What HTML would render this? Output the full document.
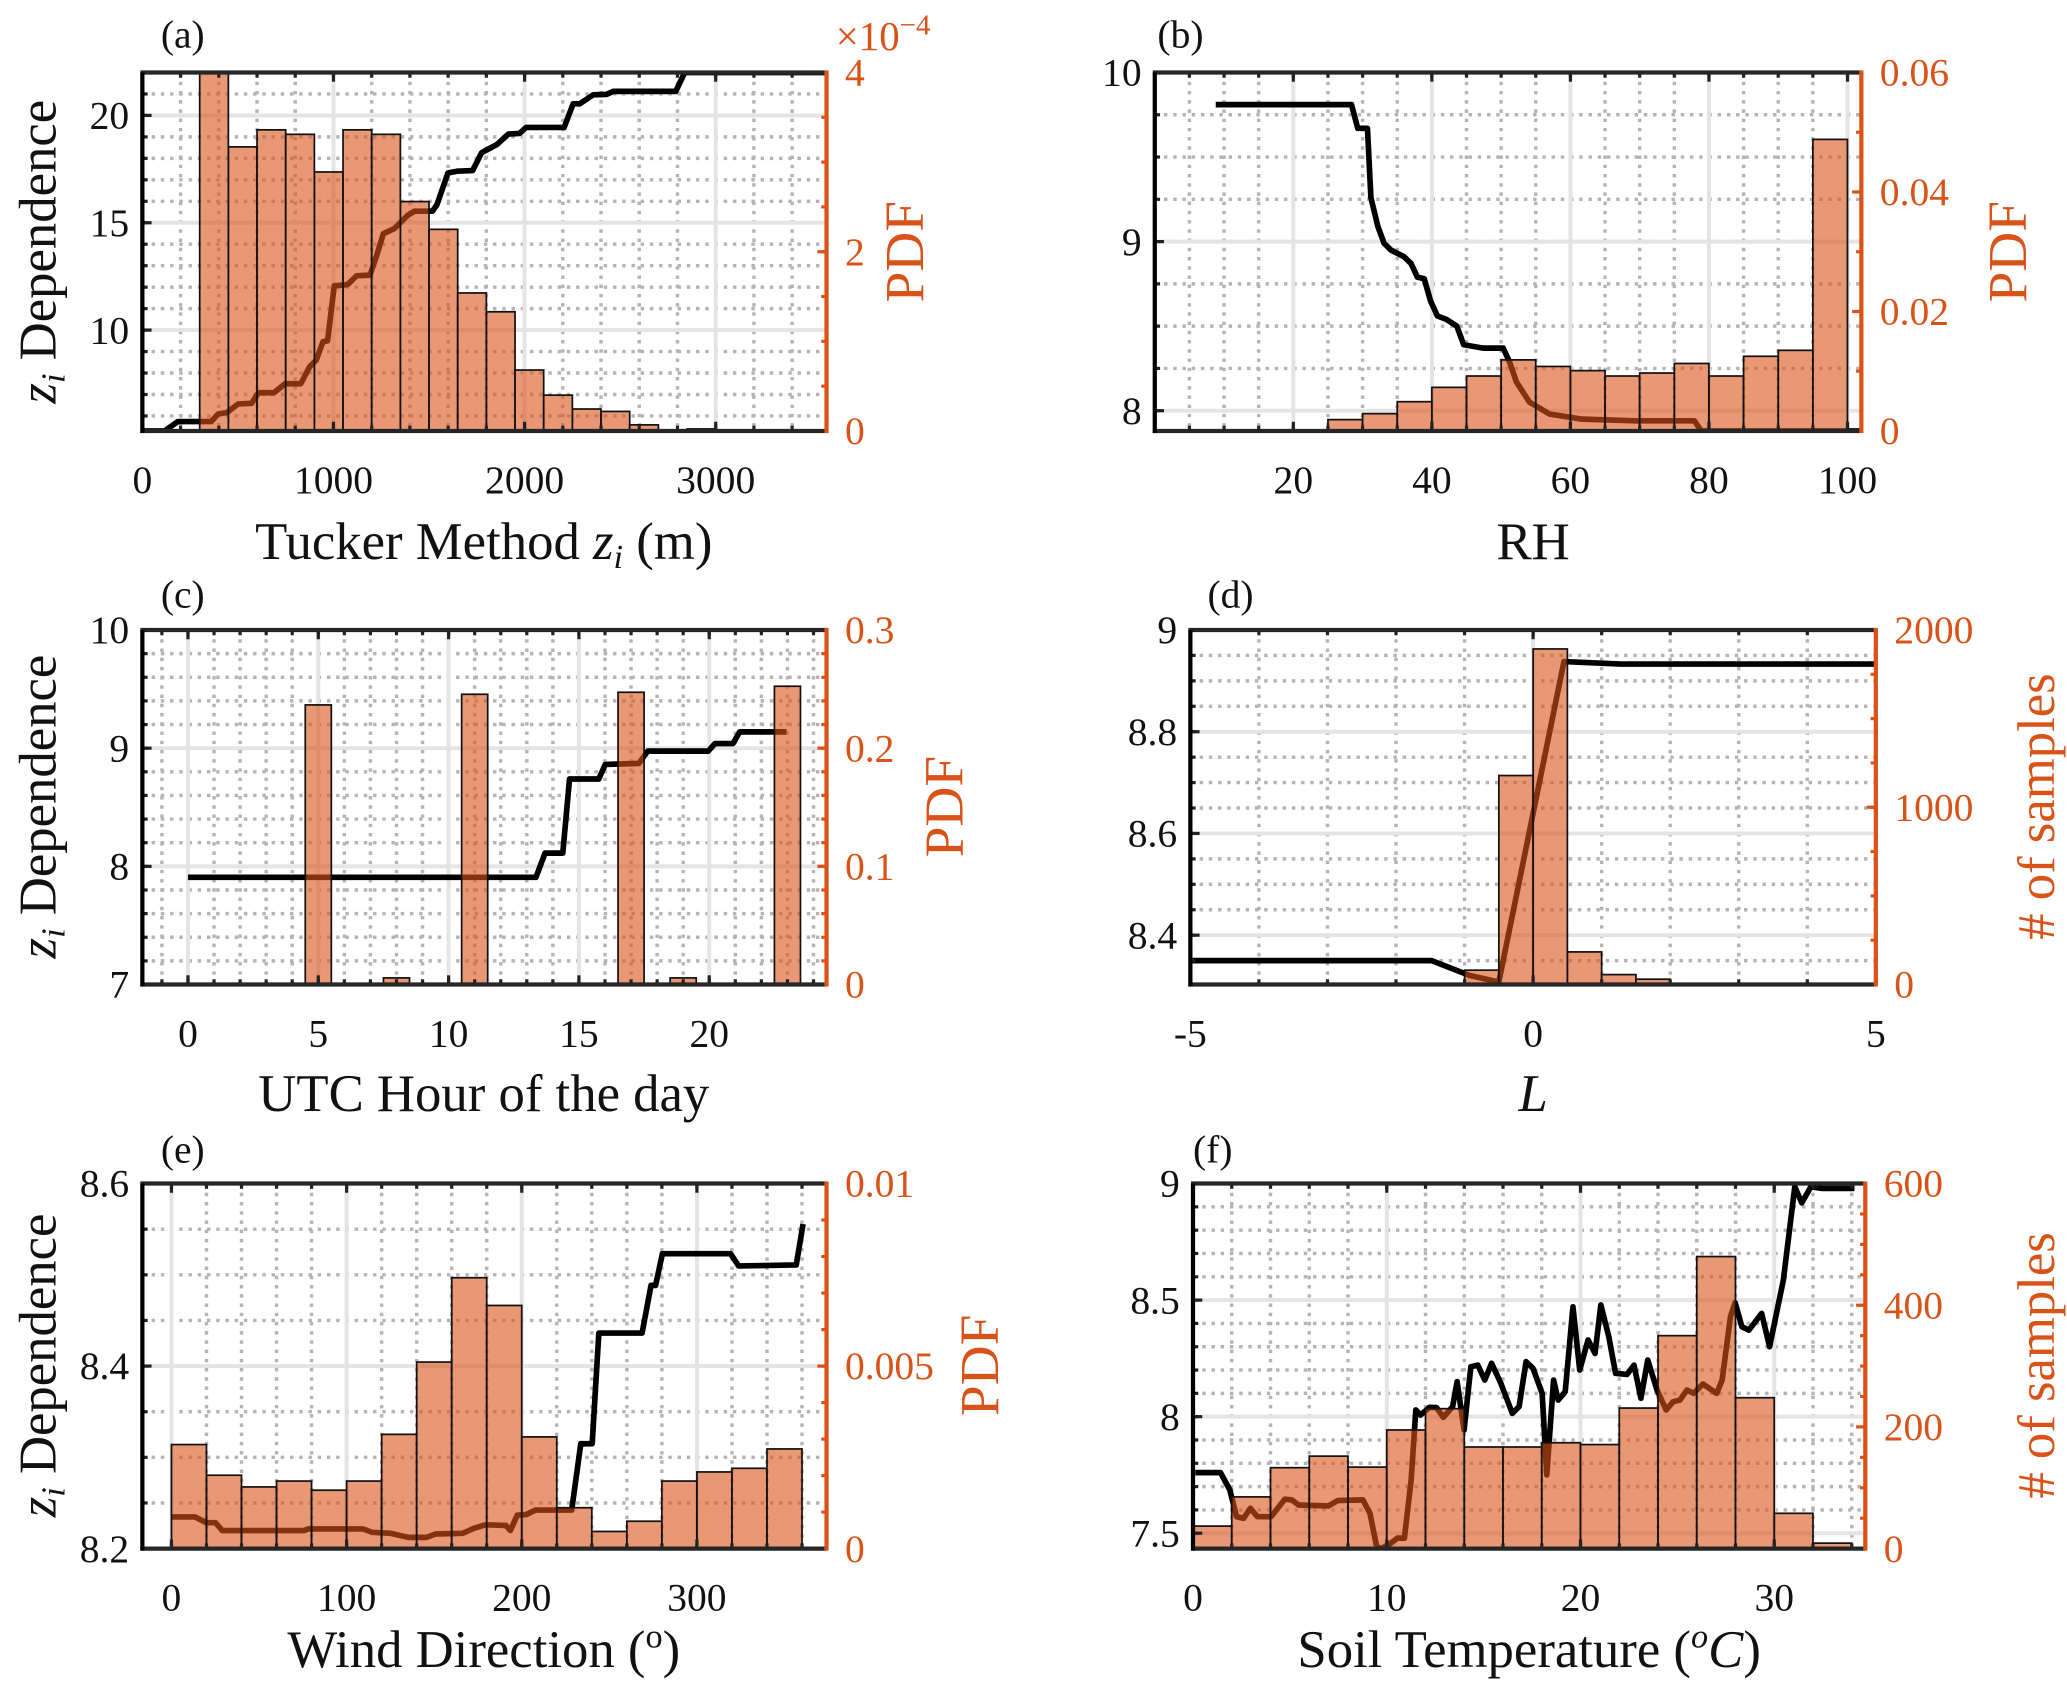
<!DOCTYPE html>
<html><head><meta charset="utf-8"><style>
html,body{margin:0;padding:0;background:#fff;}
svg{display:block;}
text{font-family:"Liberation Serif",serif;}
</style></head><body>
<svg id="fig" xmlns="http://www.w3.org/2000/svg" width="2067" height="1687" viewBox="0 0 1568 1280" preserveAspectRatio="none">
<rect x="0" y="0" width="1568" height="1280" fill="#fff"/>
</svg>
<script>
// ---------- Panel (a) data ----------
const aLineX=[0,116,186,361,396,443,501,572,607,688,747,829,875,910,945,969,1004,1074,1121,1191,1226,1261,1319,1389,1424,1518,1541,1599,1646,1728,1775,1856,1915,1973,2008,2207,2254,2288,2359,2429,2464,2791,2838,3580];
const aLineY=[5.3,5.3,5.74,5.74,6.09,6.16,6.56,6.59,7.08,7.08,7.5,7.5,8.29,8.6,9.46,9.5,12.06,12.12,12.53,12.56,13.47,14.49,14.73,15.35,15.54,15.54,15.83,17.32,17.4,17.43,18.26,18.65,19.13,19.16,19.44,19.44,20.54,20.54,20.96,20.98,21.12,21.12,22,22];
const aBinStart=300, aBinWidth=150;
const aPdf=[4.3,3.17,3.36,3.31,2.89,3.36,3.31,2.56,2.25,1.54,1.33,0.68,0.40,0.245,0.218,0.068,0.01,0.023,0.005,0.003];
const aXTicks=[0,1000,2000,3000];
const aYTicks=[10,15,20];
const aY2Ticks=[0,2,4];
// ---------- Panel (b) data ----------
const bLineX=[8.8,28.4,29.3,30.7,31.2,32.2,33.1,34.1,36,37,37.9,38.9,39.8,40.8,42.1,43.6,44.6,47.4,50.3,51.2,52.2,54.1,57,61.7,69.3,77.9,78.9,102];
const bLineY=[9.81,9.81,9.67,9.67,9.26,9.09,8.99,8.95,8.91,8.87,8.79,8.78,8.65,8.56,8.54,8.5,8.39,8.37,8.37,8.29,8.17,8.05,7.98,7.95,7.94,7.94,7.88,7.88];
const bBinStart=25, bBinWidth=5;
const bPdf=[0.0019,0.0029,0.0049,0.0073,0.0092,0.0119,0.0108,0.0101,0.0092,0.0097,0.0113,0.0092,0.0125,0.0135,0.0488];
const bXTicks=[20,40,60,80,100];
const bYTicks=[8,9,10];
const bY2Ticks=[0,0.02,0.04,0.06];
// ---------- Panel (c) data ----------
const cLineX=[0,13.35,13.7,14.38,14.64,15.76,16.01,17.3,17.64,19.96,20.22,20.91,21.17,22.97];
const cLineY=[7.907,7.907,8.112,8.112,8.739,8.739,8.862,8.871,8.975,8.975,9.039,9.039,9.138,9.138];
const cBarCenters=[5,8,11,17,19,23];
const cBarWidth=1;
const cPdf=[0.2366,0.0056,0.2456,0.2473,0.0056,0.2524];
const cXTicks=[0,5,10,15,20];
const cYTicks=[7,8,9,10];
const cY2Ticks=[0,0.1,0.2,0.3];
// ---------- Panel (d) data ----------
const dLineX=[-5,-1.48,-0.93,-0.5,0.45,1.28,5];
const dLineY=[8.35,8.35,8.321,8.308,8.938,8.933,8.933];
const dBinStart=-1, dBinWidth=0.5;
const dCounts=[81,1179,1893,184,56,30];
const dXTicks=[-5,0,5];
const dYTicks=[8.4,8.6,8.8,9];
const dY2Ticks=[0,1000,2000];
// ---------- Panel (e) data ----------
const eLineX=[0,13.5,19.9,25.1,29,75.6,78.2,109.3,114.5,124.9,135.2,145.6,150.8,166.3,172.8,179.3,190.9,193.5,197.4,202.6,207.8,228.5,233.7,240.2,244,268.7,273.8,276.4,280.3,319.2,323.8,356.7,360.6];
const eLineY=[8.2347,8.2347,8.2284,8.2284,8.2198,8.2198,8.2216,8.2216,8.2179,8.2168,8.2123,8.2123,8.216,8.2168,8.2224,8.2261,8.2254,8.2198,8.2366,8.2373,8.2422,8.2422,8.3149,8.3149,8.4362,8.4362,8.4884,8.4884,8.5231,8.5231,8.5097,8.5108,8.5556];
const eBinStart=0, eBinWidth=20;
const ePdf=[0.00285,0.00201,0.00169,0.00185,0.0016,0.00185,0.00313,0.00511,0.00742,0.00666,0.00306,0.00112,0.00047,0.00075,0.00185,0.0021,0.0022,0.00273];
const eXTicks=[0,100,200,300];
const eYTicks=[8.2,8.4,8.6];
const eY2Ticks=[0,0.005,0.01];
// ---------- Panel (f) data ----------
const fLineX=[0.12,1.42,1.9,2.25,2.61,2.96,3.32,4.03,4.74,5.1,5.45,6.99,7.47,8.77,9.13,9.48,9.72,10.2,10.55,10.91,11.26,11.5,11.74,12.21,12.57,12.92,13.4,13.63,13.99,14.34,14.7,15.06,15.41,15.89,16.48,16.83,17.19,17.55,18.02,18.26,18.61,18.85,19.21,19.61,19.96,20.39,20.75,21.05,21.46,21.81,22.4,22.76,23.12,23.47,23.95,24.42,24.78,25.13,25.49,25.84,26.32,27.03,27.31,27.74,27.98,28.33,28.69,29.35,29.76,30.47,31.06,31.42,31.89,32.48,33.9,34.14];
const fLineY=[7.76,7.76,7.686,7.571,7.564,7.607,7.571,7.571,7.646,7.643,7.621,7.617,7.64,7.643,7.586,7.443,7.431,7.457,7.479,7.479,7.729,8.029,8.007,8.04,8.039,7.997,8.043,8.15,7.943,8.214,8.221,8.157,8.229,8.143,8.014,8.043,8.236,8.207,8.1,7.75,8.157,8.071,8.107,8.471,8.2,8.329,8.271,8.479,8.343,8.186,8.181,8.221,8.079,8.243,8.114,8.029,8.064,8.071,8.114,8.1,8.14,8.1,8.157,8.429,8.489,8.386,8.371,8.443,8.3,8.586,8.986,8.917,8.986,8.979,8.979,8.979];
const fBinStart=0, fBinWidth=2;
const fCounts=[37,85,133,152,134,195,230,167,167,174,171,231,350,480,248,58,9];
const fXTicks=[0,10,20,30];
const fYTicks=[7.5,8,8.5,9];
const fY2Ticks=[0,200,400,600];

const NS='http://www.w3.org/2000/svg';
const svg=document.getElementById('fig');
const ORANGE='#D95319';
function mk(tag,attrs,parent){const e=document.createElementNS(NS,tag);for(const k in attrs)e.setAttribute(k,attrs[k]);(parent||svg).appendChild(e);return e;}
function fmt(v){return (Math.round(v*1e6)/1e6).toString();}
function edgesFrom(start,w,n){const r=[];for(let i=0;i<n;i++)r.push(start+i*w);return r;}

function panel(c){
  const g=mk('g',{});
  
  
  const sx=v=>c.L+(v-c.xmin)/(c.xmax-c.xmin)*(c.R-c.L);
  const sy=v=>c.B-(v-c.ymin)/(c.ymax-c.ymin)*(c.B-c.T);
  const sy2=v=>c.B-(v-c.y2min)/(c.y2max-c.y2min)*(c.B-c.T);
  const cp=mk('clipPath',{id:'clip'+c.id},g);
  mk('rect',{x:c.L,y:c.T,width:c.R-c.L,height:c.B-c.T},cp);
  const mg=mk('g',{stroke:'#b4b4b4','stroke-width':2.6,'stroke-dasharray':'2.6,4.4'},g);
  
  
  for(let v=Math.ceil(c.xmin/c.xMinor)*c.xMinor;v<=c.xmax+1e-9;v+=c.xMinor){const x=sx(v);mk('line',{x1:x,x2:x,y1:c.T,y2:c.B},mg);}
  for(let v=Math.ceil(c.ymin/c.yMinor)*c.yMinor;v<=c.ymax+1e-9;v+=c.yMinor){const y=sy(v);mk('line',{x1:c.L,x2:c.R,y1:y,y2:y},mg);}
  const Mg=mk('g',{stroke:'#e4e4e4','stroke-width':3},g);
  
  
  c.xTicks.forEach(v=>{const x=sx(v);mk('line',{x1:x,x2:x,y1:c.T,y2:c.B},Mg);});
  c.yTicks.forEach(v=>{const y=sy(v);mk('line',{x1:c.L,x2:c.R,y1:y,y2:y},Mg);});
  let d='';c.lineX.forEach((x,i)=>{d+=(i?'L':'M')+sx(x).toFixed(2)+','+sy(Math.max(c.ymin,Math.min(c.ymax,c.lineY[i]))).toFixed(2);});
  const ln=mk('path',{d:d,fill:'none',stroke:'#000','stroke-width':4.3,'stroke-linejoin':'round','clip-path':'url(#clip'+c.id+')'},g);
  
  
  const bg=mk('g',{'clip-path':'url(#clip'+c.id+')'},g);
  c.barLeft.forEach((x0,i)=>{
    const v=c.barVals[i];
    const x1=sx(x0),x2=sx(x0+c.barW),y=sy2(Math.min(v,c.y2max*1.02));
    const r=mk('rect',{x:x1,y:y,width:x2-x1,height:c.B-y,fill:ORANGE,'fill-opacity':0.6,stroke:'#111','stroke-width':1.3},bg);
    
    
  });
  const tg=mk('g',{stroke:'#222','stroke-width':2.4},g);
  for(let v=Math.ceil(c.xmin/c.xMinor)*c.xMinor;v<=c.xmax+1e-9;v+=c.xMinor){const x=sx(v);mk('line',{x1:x,x2:x,y1:c.B,y2:c.B-4},tg);mk('line',{x1:x,x2:x,y1:c.T,y2:c.T+4},tg);}
  c.xTicks.forEach(v=>{const x=sx(v);mk('line',{x1:x,x2:x,y1:c.B,y2:c.B-7},tg);mk('line',{x1:x,x2:x,y1:c.T,y2:c.T+7},tg);});
  for(let v=Math.ceil(c.ymin/c.yMinor)*c.yMinor;v<=c.ymax+1e-9;v+=c.yMinor){const y=sy(v);mk('line',{x1:c.L,x2:c.L+4,y1:y,y2:y},tg);}
  c.yTicks.forEach(v=>{const y=sy(v);mk('line',{x1:c.L,x2:c.L+7,y1:y,y2:y},tg);});
  const tg2=mk('g',{stroke:ORANGE,'stroke-width':2.4},g);
  for(let v=c.y2min;v<=c.y2max+1e-9;v+=c.y2Minor){const y=sy2(v);mk('line',{x1:c.R,x2:c.R-4,y1:y,y2:y},tg2);}
  c.y2Ticks.forEach(v=>{const y=sy2(v);mk('line',{x1:c.R,x2:c.R-7,y1:y,y2:y},tg2);});
  const ax=mk('g',{},g);
  
  
  mk('line',{x1:c.L-1.5,x2:c.R,y1:c.T,y2:c.T,stroke:'#262626','stroke-width':3.2},ax);
  mk('line',{x1:c.L-1.5,x2:c.R,y1:c.B,y2:c.B,stroke:'#262626','stroke-width':3.2},ax);
  mk('line',{x1:c.L,x2:c.L,y1:c.T,y2:c.B+1.5,stroke:'#000','stroke-width':3.2},ax);
  mk('line',{x1:c.R,x2:c.R,y1:c.T-1.5,y2:c.B+1.5,stroke:ORANGE,'stroke-width':3.2},ax);
  c.xTicks.forEach((v,i)=>{const t=mk('text',{x:sx(v),y:c.B+47,'font-size':30,'text-anchor':'middle',fill:'#111'},g);t.textContent=fmt(v);});
  c.yTicks.forEach(v=>{const t=mk('text',{x:c.L-10,y:sy(v)+10,'font-size':30,'text-anchor':'end',fill:'#111'},g);t.textContent=fmt(v);});
  c.y2Ticks.forEach(v=>{const t=mk('text',{x:c.R+14,y:sy2(v)+10,'font-size':30,'text-anchor':'start',fill:ORANGE},g);t.textContent=fmt(v);});
}

panel({id:'a',L:108,R:627,T:55,B:327,xmin:0,xmax:3580,ymin:5.3,ymax:22,y2min:0,y2max:4,xTicks:aXTicks,yTicks:aYTicks,y2Ticks:aY2Ticks,xMinor:200,yMinor:1,y2Minor:0.5,lineX:aLineX,lineY:aLineY,barLeft:edgesFrom(aBinStart,aBinWidth,aPdf.length),barW:aBinWidth,barVals:aPdf});
panel({id:'b',L:876,R:1412,T:55,B:327,xmin:0,xmax:102,ymin:7.88,ymax:10,y2min:0,y2max:0.06,xTicks:bXTicks,yTicks:bYTicks,y2Ticks:bY2Ticks,xMinor:5,yMinor:0.25,y2Minor:0.01,lineX:bLineX,lineY:bLineY,barLeft:edgesFrom(bBinStart,bBinWidth,bPdf.length),barW:bBinWidth,barVals:bPdf});
panel({id:'c',L:108,R:627,T:478,B:747,xmin:-1.75,xmax:24.5,ymin:7,ymax:10,y2min:0,y2max:0.3,xTicks:cXTicks,yTicks:cYTicks,y2Ticks:cY2Ticks,xMinor:1,yMinor:0.2,y2Minor:0.02,lineX:cLineX,lineY:cLineY,barLeft:cBarCenters.map(v=>v-cBarWidth/2),barW:cBarWidth,barVals:cPdf});
panel({id:'d',L:903,R:1423,T:478,B:747,xmin:-5,xmax:5,ymin:8.303,ymax:9,y2min:0,y2max:2000,xTicks:dXTicks,yTicks:dYTicks,y2Ticks:dY2Ticks,xMinor:1,yMinor:0.05,y2Minor:250,lineX:dLineX,lineY:dLineY,barLeft:edgesFrom(dBinStart,dBinWidth,dCounts.length),barW:dBinWidth,barVals:dCounts});
panel({id:'e',L:108,R:627,T:898,B:1175,xmin:-16.6,xmax:374,ymin:8.2,ymax:8.6,y2min:0,y2max:0.01,xTicks:eXTicks,yTicks:eYTicks,y2Ticks:eY2Ticks,xMinor:20,yMinor:0.05,y2Minor:0.001,lineX:eLineX,lineY:eLineY,barLeft:edgesFrom(eBinStart,eBinWidth,ePdf.length),barW:eBinWidth,barVals:ePdf});
panel({id:'f',L:905,R:1415,T:898,B:1175,xmin:0,xmax:34.7,ymin:7.434,ymax:9,y2min:0,y2max:600,xTicks:fXTicks,yTicks:fYTicks,y2Ticks:fY2Ticks,xMinor:2,yMinor:0.1,y2Minor:50,lineX:fLineX,lineY:fLineY,barLeft:edgesFrom(fBinStart,fBinWidth,fCounts.length),barW:fBinWidth,barVals:fCounts});
</script>
<svg style="position:absolute;left:0;top:0" width="2067" height="1687" viewBox="0 0 1568 1280" preserveAspectRatio="none">
<g font-family="Liberation Serif, serif" fill="#111">
<text x="122" y="36" font-size="30">(a)</text>
<text x="878" y="36" font-size="30">(b)</text>
<text x="122" y="461" font-size="30">(c)</text>
<text x="916" y="461" font-size="30">(d)</text>
<text x="122" y="882" font-size="30">(e)</text>
<text x="905" y="882" font-size="30">(f)</text>
<text x="634" y="38" font-size="31" fill="#D95319">×10<tspan dy="-12" font-size="22">−4</tspan></text>

<text transform="translate(42,191) rotate(-90)" text-anchor="middle" font-size="40"><tspan font-style="italic">z</tspan><tspan font-size="26" dy="7" font-style="italic">i</tspan><tspan dy="-7"> Dependence</tspan></text>
<text transform="translate(42,612) rotate(-90)" text-anchor="middle" font-size="40"><tspan font-style="italic">z</tspan><tspan font-size="26" dy="7" font-style="italic">i</tspan><tspan dy="-7"> Dependence</tspan></text>
<text transform="translate(42,1036) rotate(-90)" text-anchor="middle" font-size="40"><tspan font-style="italic">z</tspan><tspan font-size="26" dy="7" font-style="italic">i</tspan><tspan dy="-7"> Dependence</tspan></text>

<text transform="translate(700,191) rotate(-90)" text-anchor="middle" font-size="42" fill="#D95319">PDF</text>
<text transform="translate(1537,191) rotate(-90)" text-anchor="middle" font-size="42" fill="#D95319">PDF</text>
<text transform="translate(730,612) rotate(-90)" text-anchor="middle" font-size="42" fill="#D95319">PDF</text>
<text transform="translate(1558,612) rotate(-90)" text-anchor="middle" font-size="40" fill="#D95319"># of samples</text>
<text transform="translate(757,1036) rotate(-90)" text-anchor="middle" font-size="42" fill="#D95319">PDF</text>
<text transform="translate(1558,1036) rotate(-90)" text-anchor="middle" font-size="40" fill="#D95319"># of samples</text>

<text x="367" y="424" text-anchor="middle" font-size="40">Tucker Method <tspan font-style="italic">z</tspan><tspan font-size="26" dy="7" font-style="italic">i</tspan><tspan dy="-7"> (m)</tspan></text>
<text x="1163" y="424" text-anchor="middle" font-size="40">RH</text>
<text x="367" y="843" text-anchor="middle" font-size="40">UTC Hour of the day</text>
<text x="1163" y="843" text-anchor="middle" font-size="40" font-style="italic">L</text>
<text x="367" y="1265" text-anchor="middle" font-size="40">Wind Direction (<tspan font-size="26" dy="-15">o</tspan><tspan dy="15">)</tspan></text>
<text x="1160" y="1265" text-anchor="middle" font-size="40">Soil Temperature (<tspan font-size="26" dy="-15" font-style="italic">o</tspan><tspan dy="15" font-style="italic">C</tspan>)</text>
</g>
</svg>
</body></html>
